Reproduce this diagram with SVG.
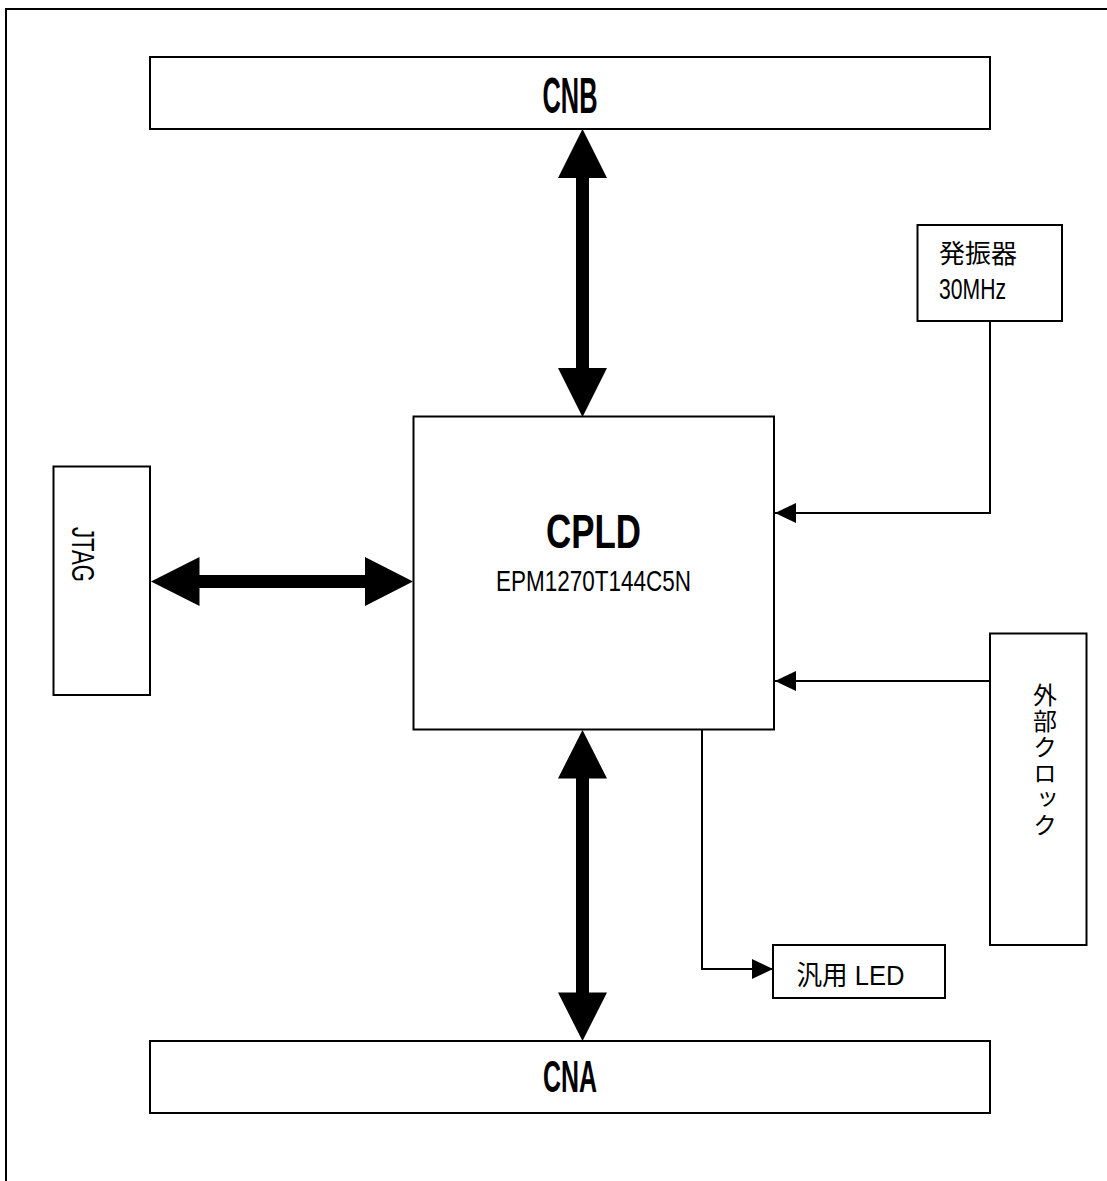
<svg xmlns="http://www.w3.org/2000/svg" width="1107" height="1181" viewBox="0 0 1107 1181">
<style>
.box{fill:#fff;stroke:#000;stroke-width:2}
.wire{fill:none;stroke:#000;stroke-width:2}
.bus{fill:#000;stroke:none}
.big{font-family:"Liberation Sans","Noto Sans CJK JP",sans-serif;font-weight:bold;fill:#000}
.t{font-family:"Liberation Sans","Noto Sans CJK JP",sans-serif;fill:#000}
.jp{font-family:"Noto Sans CJK JP",sans-serif;fill:#000}
</style>
<defs>
<marker id="ah" markerUnits="userSpaceOnUse" markerWidth="21" markerHeight="20" refX="21" refY="10" orient="auto">
<path d="M0,0 L21,10 L0,20 Z" fill="#000"/>
</marker>
</defs>
<rect x="6" y="9" width="1110" height="1190" fill="#fff" stroke="#000" stroke-width="2"/>

<g id="connectors">
<polygon class="bus" points="582.5,129 607,178 589,178 589,368 607,368 582.5,417 558,368 576,368 576,178 558,178"/>
<polygon class="bus" points="582.5,730 607,778.5 589,778.5 589,992.5 607,992.5 582.5,1041 558,992.5 576,992.5 576,778.5 558,778.5"/>
<polygon class="bus" points="151,581.5 199.5,557 199.5,575 365,575 365,557 413,581.5 365,606 365,588 199.5,588 199.5,606"/>
<path class="wire" d="M990,321 V513 H775" marker-end="url(#ah)"/>
<path class="wire" d="M990,681 H775" marker-end="url(#ah)"/>
<path class="wire" d="M702,729 V969 H773" marker-end="url(#ah)"/>
</g>

<g id="cnb">
<rect class="box" x="150" y="57" width="840" height="72"/>
<text class="big" x="570" y="112.5" font-size="50" text-anchor="middle" textLength="55" lengthAdjust="spacingAndGlyphs">CNB</text>
</g>

<g id="cna">
<rect class="box" x="150" y="1041" width="840" height="72"/>
<text class="big" x="570" y="1091.5" font-size="45" text-anchor="middle" textLength="54" lengthAdjust="spacingAndGlyphs">CNA</text>
</g>

<g id="cpld">
<rect class="box" x="413.5" y="416.5" width="360.5" height="313"/>
<text class="big" x="593.5" y="548" font-size="48" text-anchor="middle" textLength="95" lengthAdjust="spacingAndGlyphs">CPLD</text>
<text class="t" x="593.5" y="590.5" font-size="29" text-anchor="middle" textLength="195" lengthAdjust="spacingAndGlyphs">EPM1270T144C5N</text>
</g>

<g id="jtag">
<rect class="box" x="53.5" y="466.5" width="96.5" height="228.5"/>
<text class="t" transform="translate(72,554.5) rotate(90)" x="0" y="0" font-size="31" text-anchor="middle" textLength="55" lengthAdjust="spacingAndGlyphs">JTAG</text>
</g>

<g id="osc">
<rect class="box" x="917.5" y="225" width="144.5" height="96"/>
<text class="jp" x="939" y="263" font-size="26">発振器</text>
<text class="t" x="939" y="299" font-size="30" textLength="67" lengthAdjust="spacingAndGlyphs">30MHz</text>
</g>

<g id="extclk">
<rect class="box" x="990" y="633.5" width="96.5" height="311.5"/>
<text class="jp" writing-mode="vertical-rl" x="1045" y="683" font-size="24" letter-spacing="2">外部クロック</text>
</g>

<g id="led">
<rect class="box" x="773" y="945" width="172" height="53"/>
<text class="t" x="796.5" y="985" font-size="27" textLength="108" lengthAdjust="spacingAndGlyphs">汎用 LED</text>
</g>
</svg>
